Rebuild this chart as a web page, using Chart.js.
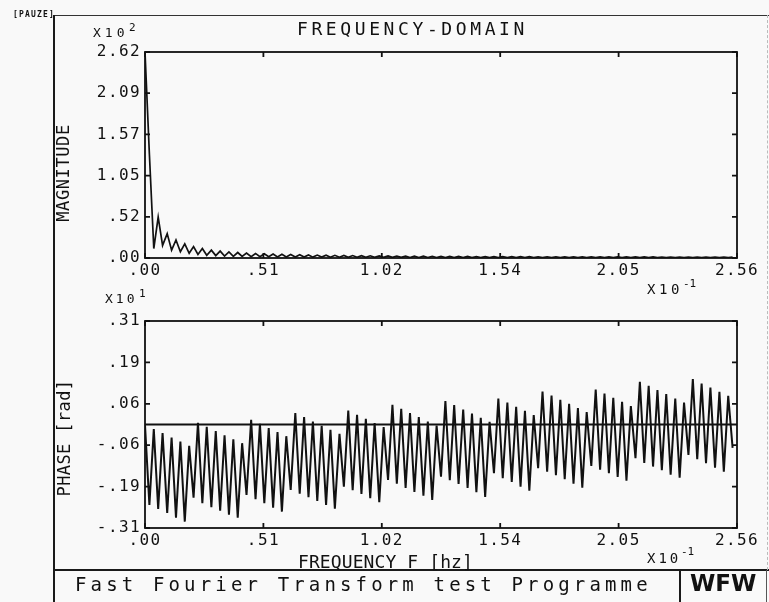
<!DOCTYPE html>
<html><head><meta charset="utf-8">
<script src="https://cdn.jsdelivr.net/npm/chart.js@4.4.0/dist/chart.umd.min.js"></script>
<style>
html,body{margin:0;padding:0;background:#f9f9f9;}
#wrap{position:relative;width:769px;height:602px;overflow:hidden;font-family:'DejaVu Sans Mono',monospace;color:#111;background:#f9f9f9;}
canvas{position:absolute;left:0;top:0;}
.t{position:absolute;white-space:nowrap;line-height:1;}
.ln{position:absolute;background:#1a1a1a;}
.rot{position:absolute;white-space:nowrap;line-height:1;transform:translate(-50%,-50%) rotate(-90deg);}
</style></head><body>
<div id="wrap">
<canvas id="c1" width="769" height="602"></canvas>
<canvas id="c2" width="769" height="602"></canvas>

<div class="ln" style="left:53px;top:15px;width:1.5px;height:587px;"></div>
<div class="ln" style="left:55px;top:14.5px;width:714px;height:1px;background:#333;"></div>
<div class="ln" style="left:54px;top:569px;width:715px;height:2px;"></div>
<div class="ln" style="left:679px;top:570px;width:2px;height:32px;"></div>
<div class="ln" style="left:766px;top:570px;width:1px;height:32px;background:#555;"></div>
<div style="position:absolute;left:767px;top:15px;height:555px;border-left:1px dashed #bbb;"></div>

<div class="t" style="left:13px;top:11px;font-size:8px;font-weight:bold;letter-spacing:1.2px;">[PAUZE]</div>
<div class="t" style="left:297px;top:20px;font-size:18px;letter-spacing:3.6px;">FREQUENCY-DOMAIN</div>

<div class="t" style="left:93px;top:25.5px;font-size:13px;letter-spacing:4px;">X10</div>
<div class="t" style="left:129px;top:21.5px;font-size:11px;">2</div>
<div class="t" style="left:647px;top:281.5px;font-size:14px;letter-spacing:3.6px;">X10</div>
<div class="t" style="left:683px;top:277.5px;font-size:11px;">-1</div>

<div class="t" style="left:105px;top:291.5px;font-size:13px;letter-spacing:3px;">X10</div>
<div class="t" style="left:139px;top:287.5px;font-size:11px;">1</div>
<div class="t" style="left:647px;top:550.5px;font-size:14px;letter-spacing:3px;">X10</div>
<div class="t" style="left:681px;top:545.5px;font-size:11px;">-1</div>

<div class="rot" style="left:63px;top:173px;font-size:17px;letter-spacing:0.6px;">MAGNITUDE</div>
<div class="rot" style="left:64px;top:438px;font-size:17px;letter-spacing:0.4px;">PHASE [rad]</div>

<div class="t" style="left:298px;top:553px;font-size:18px;letter-spacing:0.1px;">FREQUENCY F [hz]</div>
<div class="t" style="left:75px;top:574.8px;font-size:19px;letter-spacing:4.15px;">Fast Fourier Transform test Programme</div>
<div class="t" style="left:690px;top:572.3px;font-size:23px;font-weight:bold;font-family:'DejaVu Sans',sans-serif;">WFW</div>
</div>

<script>
// frequency (x10^-1 Hz)
const freq = [0.000,0.019,0.038,0.057,0.076,0.096,0.115,0.134,0.153,0.172,
 0.191,0.210,0.229,0.248,0.267,0.287,0.306,0.325,0.344,0.363,
 0.382,0.401,0.420,0.439,0.459,0.478,0.497,0.516,0.535,0.554,
 0.573,0.592,0.611,0.630,0.650,0.669,0.688,0.707,0.726,0.745,
 0.764,0.783,0.802,0.821,0.841,0.860,0.879,0.898,0.917,0.936,
 0.955,0.974,0.993,1.013,1.032,1.051,1.070,1.089,1.108,1.127,
 1.146,1.165,1.184,1.204,1.223,1.242,1.261,1.280,1.299,1.318,
 1.337,1.356,1.376,1.395,1.414,1.433,1.452,1.471,1.490,1.509,
 1.528,1.547,1.567,1.586,1.605,1.624,1.643,1.662,1.681,1.700,
 1.719,1.739,1.758,1.777,1.796,1.815,1.834,1.853,1.872,1.891,
 1.910,1.930,1.949,1.968,1.987,2.006,2.025,2.044,2.063,2.082,
 2.101,2.121,2.140,2.159,2.178,2.197,2.216,2.235,2.254,2.273,
 2.293,2.312,2.331,2.350,2.369,2.388,2.407,2.426,2.445,2.465,
 2.484,2.503,2.522,2.541];

// magnitude (x10^2)
const magnitude = [2.62,1.32,0.12,0.52,0.16,0.31,0.10,0.23,0.08,0.18,
 0.06,0.145,0.045,0.12,0.035,0.100,0.03,0.088,0.025,0.078,
 0.022,0.070,0.020,0.064,0.018,0.058,0.016,0.054,0.015,0.050,
 0.014,0.047,0.013,0.044,0.012,0.041,0.012,0.039,0.011,0.037,
 0.011,0.035,0.010,0.034,0.010,0.032,0.009,0.031,0.009,0.029,
 0.009,0.028,0.008,0.027,0.008,0.026,0.008,0.025,0.008,0.024,
 0.007,0.023,0.007,0.023,0.007,0.022,0.007,0.021,0.007,0.021,
 0.006,0.020,0.006,0.020,0.006,0.019,0.006,0.019,0.006,0.018,
 0.006,0.018,0.006,0.017,0.005,0.017,0.005,0.017,0.005,0.016,
 0.005,0.016,0.005,0.016,0.005,0.015,0.005,0.015,0.005,0.015,
 0.005,0.014,0.005,0.014,0.005,0.014,0.004,0.014,0.004,0.013,
 0.004,0.013,0.004,0.013,0.004,0.013,0.004,0.012,0.004,0.012,
 0.004,0.012,0.004,0.012,0.004,0.012,0.004,0.011,0.004,0.011,
 0.004,0.011,0.004,0.011];

// phase (x10^1 rad)
const phase = [-0.002,-0.241,-0.014,-0.253,-0.026,-0.265,-0.039,-0.279,-0.051,-0.291,
 -0.064,-0.219,0.005,-0.236,-0.007,-0.248,-0.020,-0.258,-0.032,-0.270,
 -0.044,-0.279,-0.056,-0.211,0.014,-0.224,0.002,-0.236,-0.011,-0.249,
 -0.023,-0.261,-0.035,-0.196,0.034,-0.207,0.022,-0.218,0.009,-0.229,
 -0.004,-0.241,-0.016,-0.252,-0.028,-0.186,0.042,-0.197,0.029,-0.208,
 0.017,-0.221,0.004,-0.233,-0.008,-0.166,0.059,-0.177,0.047,-0.190,
 0.034,-0.202,0.022,-0.213,0.009,-0.226,-0.003,-0.156,0.070,-0.167,
 0.058,-0.178,0.045,-0.190,0.033,-0.203,0.020,-0.217,0.008,-0.146,
 0.078,-0.161,0.066,-0.172,0.053,-0.186,0.041,-0.198,0.028,-0.131,
 0.099,-0.141,0.087,-0.152,0.074,-0.164,0.062,-0.177,0.049,-0.189,
 0.037,-0.124,0.105,-0.135,0.093,-0.146,0.080,-0.157,0.068,-0.168,
 0.055,-0.101,0.128,-0.115,0.116,-0.126,0.103,-0.137,0.091,-0.150,
 0.078,-0.159,0.066,-0.091,0.136,-0.104,0.123,-0.116,0.111,-0.129,
 0.098,-0.141,0.086,-0.070];

const freqTicks = [0, 0.512, 1.024, 1.536, 2.048, 2.56];
const freqTickLabels = ['.00', '.51', '1.02', '1.54', '2.05', '2.56'];
const magTicks = [0, 0.524, 1.048, 1.572, 2.096, 2.62];
const magTickLabels = ['.00', '.52', '1.05', '1.57', '2.09', '2.62'];
const phaseTicks = [-0.31, -0.186, -0.062, 0.062, 0.186, 0.31];
const phaseTickLabels = ['-.31', '-.19', '-.06', '.06', '.19', '.31'];
const zeroLevel = 0;

const INK = '#111';
const tickFont = {family: "'DejaVu Sans Mono', monospace", size: 16};

const framePlugin = {
  id: 'frame',
  beforeDraw(chart) { chart.ctx.letterSpacing = '1.4px'; },
  afterDraw(chart) {
    const {ctx, chartArea: a} = chart;
    const xs = chart.scales.x, ys = chart.scales.y;
    ctx.save();
    ctx.strokeStyle = INK;
    ctx.lineWidth = 1.8;
    ctx.strokeRect(a.left, a.top, a.right - a.left, a.bottom - a.top);
    ctx.beginPath();
    xs.ticks.forEach(t => {
      const p = xs.getPixelForValue(t.value);
      ctx.moveTo(p, a.bottom); ctx.lineTo(p, a.bottom - 5);
      ctx.moveTo(p, a.top); ctx.lineTo(p, a.top + 5);
    });
    ys.ticks.forEach(t => {
      const p = ys.getPixelForValue(t.value);
      ctx.moveTo(a.left, p); ctx.lineTo(a.left + 5, p);
      ctx.moveTo(a.right, p); ctx.lineTo(a.right - 5, p);
    });
    ctx.stroke();
    ctx.restore();
  }
};

function makeChart(id, datasets, yMin, yMax, yTicks, yLabels, top, bottom) {
  return new Chart(document.getElementById(id), {
    type: 'line',
    data: {datasets},
    options: {
      responsive: false, animation: false, devicePixelRatio: 1,
      layout: {padding: {left: 0, right: 32, top: top, bottom: 602 - 22 - bottom}},
      plugins: {legend: {display: false}, tooltip: {enabled: false}},
      elements: {point: {radius: 0}, line: {tension: 0}},
      scales: {
        x: {
          type: 'linear', min: freqTicks[0], max: freqTicks[freqTicks.length - 1],
          grid: {display: false, drawTicks: false}, border: {display: false},
          afterBuildTicks: s => { s.ticks = freqTicks.map(v => ({value: v})); },
          afterFit: s => { s.height = 22; },
          ticks: {autoSkip: false, maxRotation: 0, padding: 3, color: INK, font: tickFont,
                  callback: (v, i) => freqTickLabels[i]}
        },
        y: {
          type: 'linear', min: yMin, max: yMax,
          grid: {display: false, drawTicks: false}, border: {display: false},
          afterBuildTicks: s => { s.ticks = yTicks.map(v => ({value: v})); },
          afterFit: s => { s.width = 145; },
          ticks: {autoSkip: false, padding: 4, color: INK, font: tickFont,
                  callback: (v, i) => yLabels[i]}
        }
      }
    },
    plugins: [framePlugin]
  });
}

makeChart('c1', [{
  data: freq.map((f, i) => ({x: f, y: magnitude[i]})),
  borderColor: INK, borderWidth: 1.7, fill: false
}], magTicks[0], magTicks[magTicks.length - 1], magTicks, magTickLabels, 52, 258);

makeChart('c2', [{
  data: freq.map((f, i) => ({x: f, y: phase[i]})),
  borderColor: INK, borderWidth: 2, fill: false
}, {
  data: [{x: freqTicks[0], y: zeroLevel}, {x: freqTicks[freqTicks.length - 1], y: zeroLevel}],
  borderColor: INK, borderWidth: 2, fill: false
}], phaseTicks[0], phaseTicks[phaseTicks.length - 1], phaseTicks, phaseTickLabels, 321, 528);
</script>
</body></html>
